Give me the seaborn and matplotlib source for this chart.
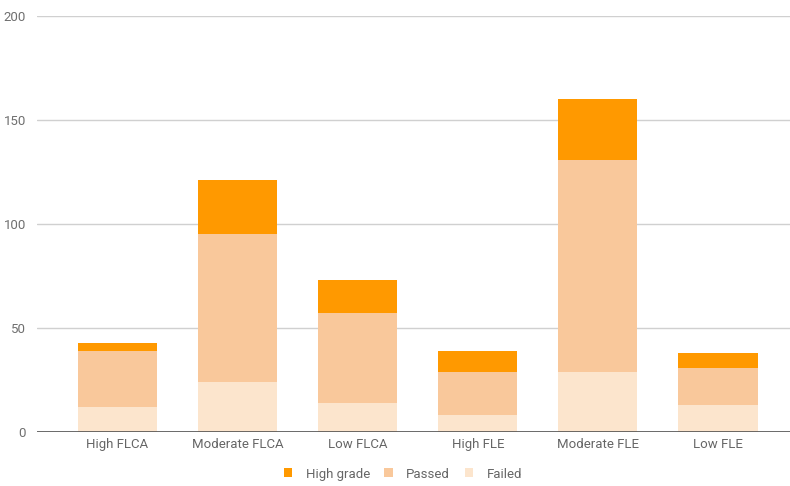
import matplotlib
matplotlib.use("Agg")
import matplotlib.pyplot as plt
from matplotlib.patches import Patch
import numpy as np
import pandas as pd
import seaborn as sns

# Data: students per group, split by outcome
categories = ["High FLCA", "Moderate FLCA", "Low FLCA", "High FLE", "Moderate FLE", "Low FLE"]
failed = [12, 24, 14, 8, 29, 13]
passed = [27, 71, 43, 21, 102, 18]
high_grade = [4, 26, 16, 10, 29, 7]

series_names = ["High grade", "Passed", "Failed"]
colors = {"High grade": "#FF9900", "Passed": "#F9C89B", "Failed": "#FCE5CD"}

df = pd.DataFrame({
    "category": categories,
    "Failed": failed,
    "Passed": passed,
    "High grade": high_grade,
})
# cumulative tops for stacking
df["top_failed"] = df["Failed"]
df["top_passed"] = df["Failed"] + df["Passed"]
df["top_high"] = df["top_passed"] + df["High grade"]

sns.set_theme(style="white")
plt.rcParams["font.family"] = ["Roboto", "DejaVu Sans"]

fig = plt.figure(figsize=(7.9, 4.86), dpi=100)
ax = fig.add_axes([37 / 790, 54 / 486, 1 - 37 / 790, 416 / 486])

bar_w = 0.66
for col, name in [("top_high", "High grade"), ("top_passed", "Passed"), ("top_failed", "Failed")]:
    sns.barplot(data=df, x="category", y=col, order=categories, color=colors[name],
                width=bar_w, saturation=1, linewidth=0, ax=ax, zorder=3)

ax.set_ylim(0, 200)
ax.set_yticks([0, 50, 100, 150, 200])
ax.set_xlim(-0.67, 5.6)
ax.yaxis.grid(True, color="#d0d0d0", linewidth=1, zorder=0)
ax.set_axisbelow(True)
ax.axhline(0, color="#444444", linewidth=1.1, zorder=4)
for s in ax.spines.values():
    s.set_visible(False)
ax.set_xlabel("")
ax.set_ylabel("")
ax.tick_params(axis="y", length=0, pad=8, labelsize=9.5, labelcolor="#6f6f6f")
ax.tick_params(axis="x", length=0, pad=4, labelsize=9.5, labelcolor="#666666")

handles = [Patch(facecolor=colors[n], edgecolor="none", label=n) for n in series_names]
fig.legend(handles=handles, loc="center", bbox_to_anchor=(0.51, 1 - 474 / 486), ncol=3,
           frameon=False, fontsize=9.5, handlelength=0.65, handleheight=0.65,
           handletextpad=1.0, columnspacing=1.1, labelcolor="#666666")

fig.savefig("out.png", dpi=100, facecolor="white")
